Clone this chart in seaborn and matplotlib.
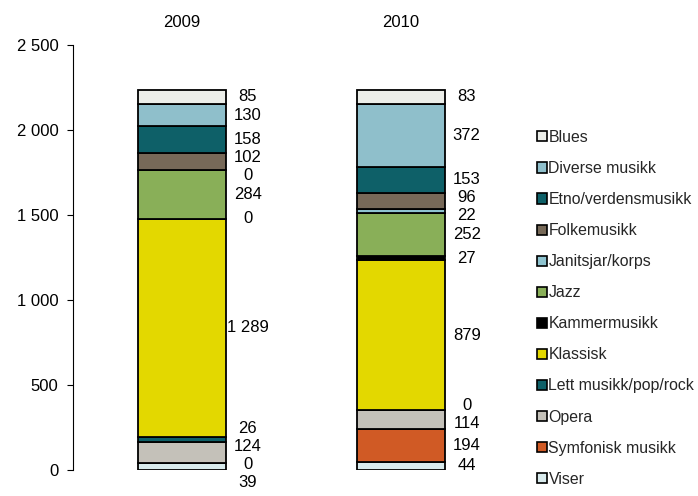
import matplotlib
matplotlib.use("Agg")
import matplotlib.pyplot as plt
import matplotlib.ticker as mticker
from matplotlib.patches import Patch
import seaborn as sns
import numpy as np
import pandas as pd

years = ["2009", "2010"]
# stack order, bottom to top
categories = ["Viser", "Symfonisk musikk", "Opera", "Lett musikk/pop/rock",
              "Klassisk", "Kammermusikk", "Jazz", "Janitsjar/korps",
              "Folkemusikk", "Etno/verdensmusikk", "Diverse musikk", "Blues"]
values_2009 = [39, 0, 124, 26, 1289, 0, 284, 0, 102, 158, 130, 85]
values_2010 = [44, 194, 114, 0, 879, 27, 252, 22, 96, 153, 372, 83]
colors = ["#D8EAEC", "#D05A25", "#C4C1B9", "#0E6068",
          "#E3D800", "#000000", "#89AF58", "#8EC3CF",
          "#776958", "#0E6068", "#8FBFCB", "#ECEEE9"]
yticks = [0, 500, 1000, 1500, 2000, 2500]

sns.set_theme(style="white")
plt.rcParams["font.family"] = ["Liberation Sans", "DejaVu Sans"]
FS = 12
LFS = 11.45

fig = plt.figure(figsize=(6.98, 4.96), dpi=100)
ax = fig.add_axes([72.5 / 698, 1 - 469.5 / 496, 438 / 698, 424.5 / 496])

vals = np.array([values_2009, values_2010], dtype=float)  # shape (2, ncat)
bottoms = np.zeros(len(years))
for i, cat in enumerate(categories):
    df = pd.DataFrame({"year": years, "value": vals[:, i]})
    sns.barplot(data=df, x="year", y="value", order=years, color=colors[i],
                width=0.4, bottom=bottoms.copy(), edgecolor="black",
                linewidth=1.3, saturation=1, ax=ax, errorbar=None)
    bottoms += vals[:, i]

# data labels with simple de-overlap
min_gap = 106.0
for j, yr in enumerate(years):
    cum = np.concatenate([[0], np.cumsum(vals[j])])
    centers = (cum[:-1] + cum[1:]) / 2.0
    pos = centers.copy()
    for _ in range(300):
        moved = False
        for k in range(len(pos) - 1):
            gap = pos[k + 1] - pos[k]
            if gap < min_gap - 1e-6:
                d = (min_gap - gap) / 2.0
                pos[k] -= d
                pos[k + 1] += d
                moved = True
        if not moved:
            break
    for k, v in enumerate(vals[j]):
        txt = f"{int(v):,}".replace(",", " ")
        ax.text(j + 0.3, pos[k], txt, ha="center", va="center",
                fontsize=FS, color="black", clip_on=False)

ax.set_xlim(-0.5, 1.5)
ax.set_ylim(0, 2500)
ax.set_yticks(yticks)
ax.yaxis.set_major_formatter(mticker.FuncFormatter(lambda v, p: f"{int(v):,}".replace(",", " ")))
ax.tick_params(axis="y", which="major", left=True, length=4, width=0.8,
               color="black", labelsize=FS, pad=6, labelcolor="black")
ax.xaxis.tick_top()
ax.tick_params(axis="x", top=False, bottom=False, length=0, pad=11,
               labelsize=FS, labelcolor="black")
ax.set_xlabel("")
ax.set_ylabel("")
for s in ["top", "right", "bottom"]:
    ax.spines[s].set_visible(False)
ax.spines["left"].set_color("black")
ax.spines["left"].set_linewidth(0.8)
ax.patch.set_alpha(0)

handles = [Patch(facecolor=colors[i], edgecolor="black", linewidth=1.2, label=categories[i])
           for i in range(len(categories) - 1, -1, -1)]
fig.legend(handles=handles, loc="upper left", bbox_to_anchor=(537 / 698, 1 - 130 / 496),
           frameon=False, fontsize=LFS, handlelength=0.6, handleheight=0.6,
           handletextpad=0.12, labelspacing=1.01, borderaxespad=0, borderpad=0)

fig.savefig("out.png", dpi=100)
